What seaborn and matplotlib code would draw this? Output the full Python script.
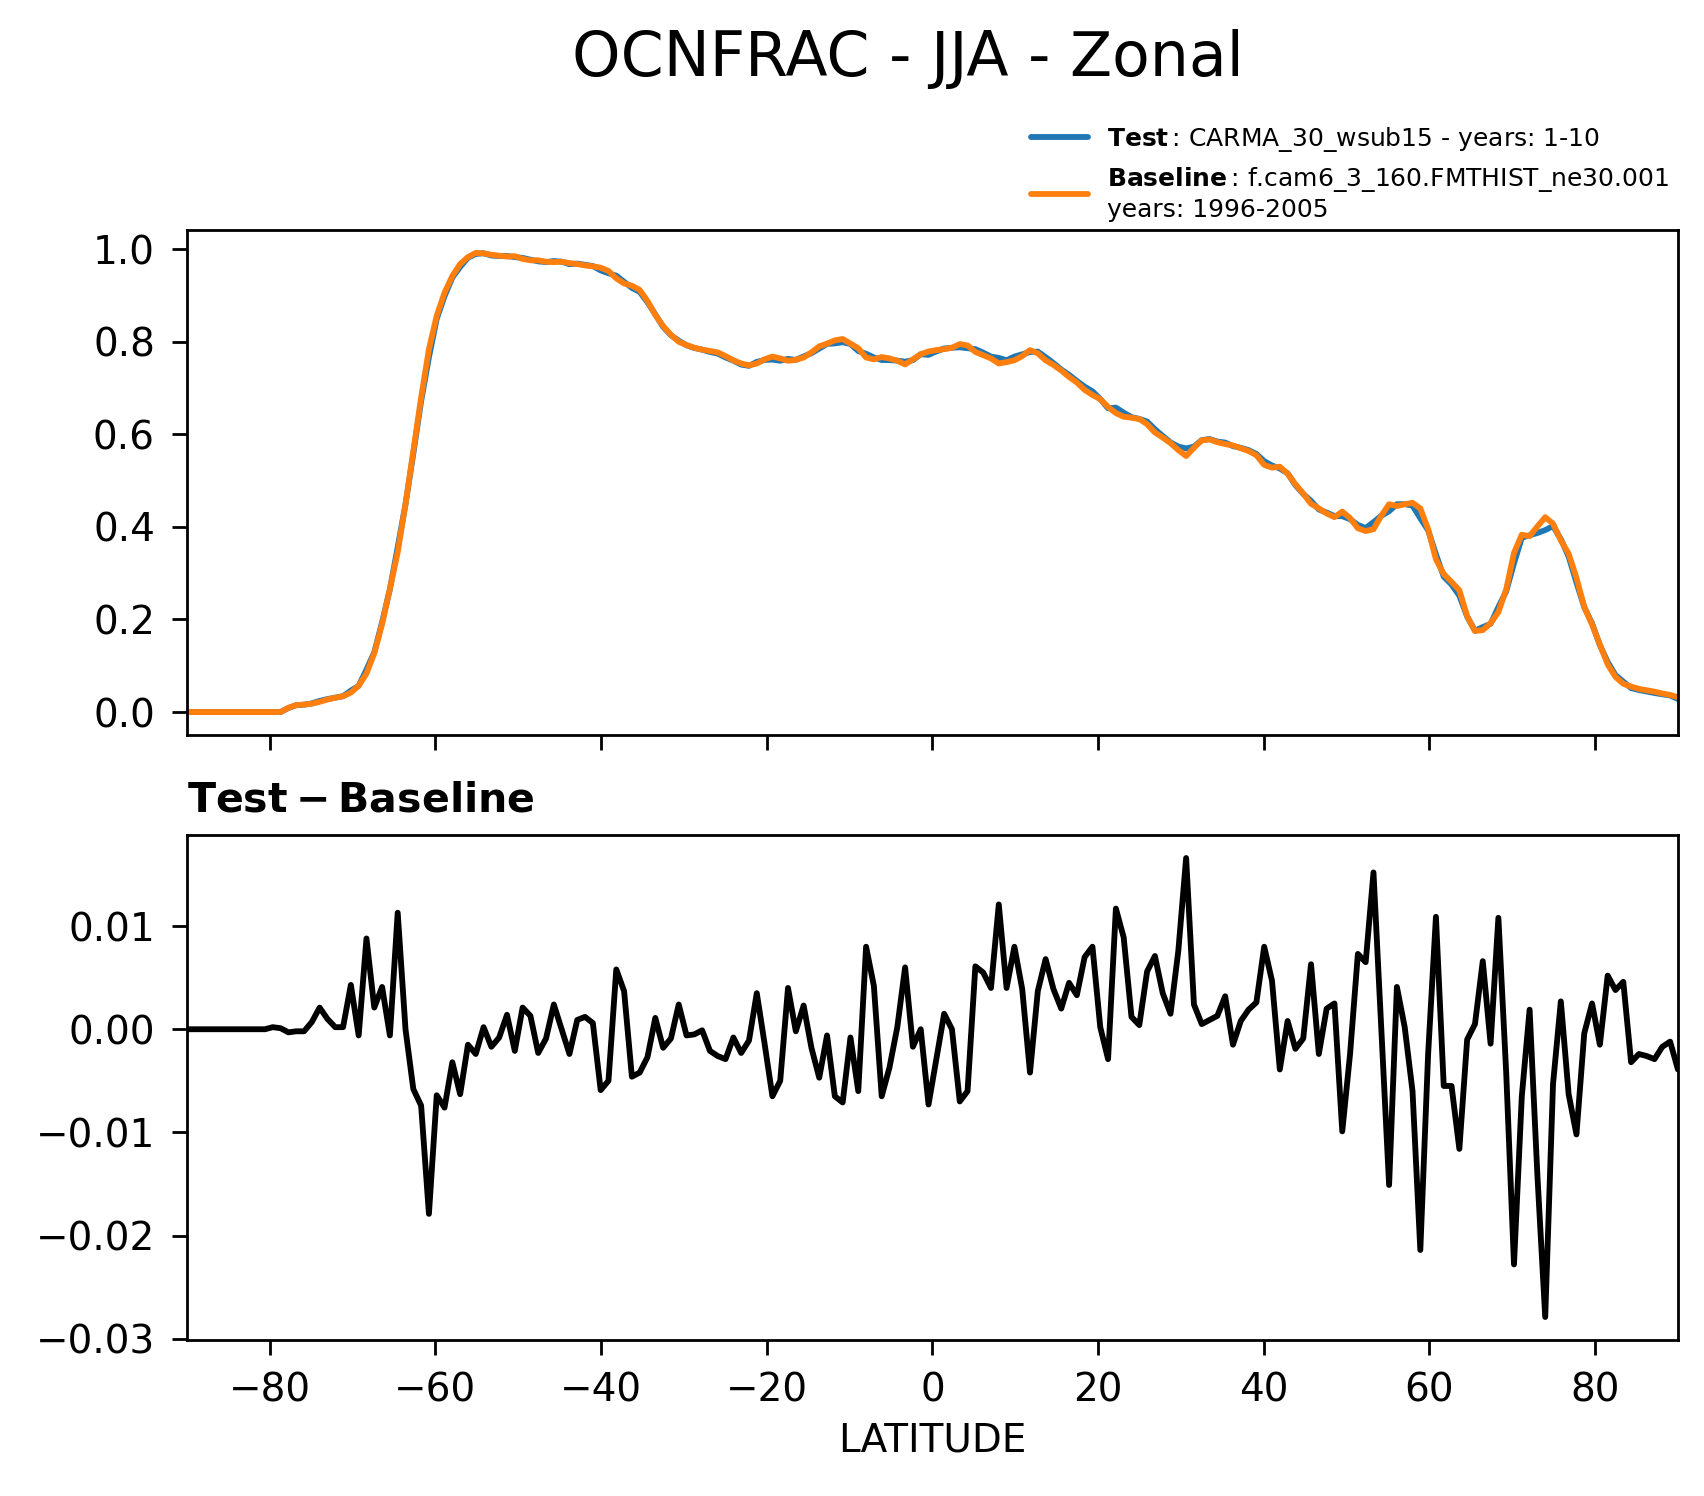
import numpy as np
import pandas as pd
import matplotlib
matplotlib.use("Agg")
import matplotlib.pyplot as plt
import seaborn as sns

# ---------------- data ----------------
# latitude grid of the 0.9x1.25 FV grid (192 latitudes, pole to pole)
lat = np.linspace(-90.0, 90.0, 192)

baseline = [
    0, 0, 0, 0, 0, 0, 0, 0, 0, 0,
    0, 0, 0, 0.009, 0.015, 0.016, 0.018, 0.022, 0.027, 0.031,
    0.034, 0.042, 0.057, 0.083, 0.127, 0.190, 0.266, 0.345, 0.449, 0.564,
    0.679, 0.784, 0.856, 0.906, 0.942, 0.968, 0.983, 0.992, 0.991, 0.988,
    0.986, 0.984, 0.985, 0.979, 0.976, 0.976, 0.973, 0.972, 0.973, 0.970,
    0.968, 0.965, 0.963, 0.960, 0.953, 0.937, 0.926, 0.921, 0.912, 0.888,
    0.858, 0.834, 0.815, 0.800, 0.793, 0.787, 0.783, 0.780, 0.777, 0.769,
    0.760, 0.753, 0.749, 0.753, 0.762, 0.768, 0.764, 0.759, 0.761, 0.766,
    0.777, 0.790, 0.796, 0.803, 0.806, 0.796, 0.786, 0.766, 0.762, 0.767,
    0.764, 0.759, 0.751, 0.762, 0.773, 0.779, 0.782, 0.784, 0.787, 0.795,
    0.792, 0.778, 0.771, 0.764, 0.753, 0.756, 0.760, 0.769, 0.782, 0.775,
    0.760, 0.750, 0.738, 0.724, 0.712, 0.696, 0.685, 0.676, 0.659, 0.646,
    0.638, 0.636, 0.633, 0.622, 0.604, 0.593, 0.581, 0.566, 0.553, 0.571,
    0.587, 0.589, 0.583, 0.579, 0.576, 0.570, 0.564, 0.555, 0.534, 0.528,
    0.530, 0.515, 0.492, 0.472, 0.450, 0.440, 0.429, 0.421, 0.433, 0.419,
    0.397, 0.391, 0.395, 0.424, 0.449, 0.445, 0.449, 0.452, 0.440, 0.395,
    0.330, 0.298, 0.281, 0.263, 0.207, 0.175, 0.177, 0.192, 0.216, 0.265,
    0.344, 0.383, 0.380, 0.401, 0.421, 0.407, 0.371, 0.342, 0.290, 0.227,
    0.189, 0.146, 0.103, 0.076, 0.061, 0.055, 0.050, 0.047, 0.044, 0.040,
    0.037, 0.032,
]

diff = [
    0, 0, 0, 0, 0, 0, 0, 0, 0, 0,
    0, 0.0002, 0.0001, -0.0003, -0.0002, -0.0002, 0.0007, 0.0021, 0.0010, 0.0002,
    0.0002, 0.0043, -0.0006, 0.0088, 0.0021, 0.0041, -0.0006, 0.0113, 0.0000, -0.0058,
    -0.0074, -0.0179, -0.0064, -0.0076, -0.0032, -0.0063, -0.0015, -0.0024, 0.0002, -0.0017,
    -0.0008, 0.0014, -0.0021, 0.0021, 0.0013, -0.0023, -0.0009, 0.0024, 0.0000, -0.0024,
    0.0009, 0.0012, 0.0006, -0.0059, -0.0050, 0.0058, 0.0037, -0.0046, -0.0042, -0.0027,
    0.0011, -0.0018, -0.0009, 0.0024, -0.0006, -0.0005, -0.0001, -0.0021, -0.0026, -0.0029,
    -0.0008, -0.0023, -0.0011, 0.0035, -0.0014, -0.0065, -0.0050, 0.0040, -0.0002, 0.0023,
    -0.0018, -0.0047, -0.0006, -0.0065, -0.0071, -0.0008, -0.0060, 0.0080, 0.0042, -0.0065,
    -0.0037, 0.0002, 0.0060, -0.0017, 0.0000, -0.0073, -0.0029, 0.0015, 0.0000, -0.0070,
    -0.0060, 0.0061, 0.0055, 0.0040, 0.0121, 0.0040, 0.0080, 0.0039, -0.0042, 0.0037,
    0.0068, 0.0039, 0.0020, 0.0045, 0.0033, 0.0070, 0.0080, 0.0002, -0.0029, 0.0117,
    0.0089, 0.0012, 0.0004, 0.0056, 0.0071, 0.0035, 0.0015, 0.0076, 0.0166, 0.0024,
    0.0005, 0.0009, 0.0013, 0.0032, -0.0015, 0.0008, 0.0019, 0.0026, 0.0080, 0.0047,
    -0.0039, 0.0008, -0.0019, -0.0009, 0.0063, -0.0024, 0.0020, 0.0025, -0.0099, -0.0024,
    0.0073, 0.0065, 0.0152, 0.0000, -0.0151, 0.0041, 0.0002, -0.0060, -0.0214, -0.0024,
    0.0109, -0.0055, -0.0055, -0.0116, -0.0010, 0.0005, 0.0066, -0.0014, 0.0108, -0.0042,
    -0.0228, -0.0065, 0.0019, -0.0142, -0.0279, -0.0053, 0.0027, -0.0063, -0.0102, -0.0004,
    0.0025, -0.0015, 0.0052, 0.0038, 0.0046, -0.0032, -0.0024, -0.0026, -0.0029, -0.0017,
    -0.0012, -0.0039,
]

xticks = [-80, -60, -40, -20, 0, 20, 40, 60, 80]
test_label = r"$\bf{Test}\,$: CARMA_30_wsub15 - years: 1-10"
base_label = r"$\bf{Baseline}\,$: f.cam6_3_160.FMTHIST_ne30.001" + "\nyears: 1996-2005"
title = "OCNFRAC - JJA - Zonal"

# test = baseline + (test - baseline)
test = np.array(baseline) + np.array(diff)
df = pd.DataFrame({"lat": lat, "Test": test, "Baseline": baseline,
                   "diff": diff})

# ---------------- style ----------------
sns.set_theme(style="ticks")
plt.rcParams["font.family"] = ["DejaVu Sans"]
plt.rcParams.update({
    "axes.linewidth": 1.0,
    "xtick.major.size": 5.5, "ytick.major.size": 5.5,
    "xtick.major.width": 1.0, "ytick.major.width": 1.0,
    "xtick.major.pad": 6.0, "ytick.major.pad": 6.0,
    "xtick.labelsize": 14, "ytick.labelsize": 14,
    "xtick.color": "black", "ytick.color": "black",
    "xtick.labelcolor": "black", "ytick.labelcolor": "black",
    "text.color": "black", "axes.labelcolor": "black",
    "axes.titlecolor": "black",
    "axes.edgecolor": "black",
    "xtick.direction": "out", "ytick.direction": "out",
})

fig = plt.figure(figsize=(8.52, 7.48), dpi=200)
ax1 = fig.add_axes([0.1097, 0.5087, 0.875, 0.3376])
ax2 = fig.add_axes([0.1097, 0.1043, 0.875, 0.3375], sharex=ax1)

sns.lineplot(data=df, x="lat", y="Test", ax=ax1, color="#1f77b4",
             lw=2.1, label=test_label)
sns.lineplot(data=df, x="lat", y="Baseline", ax=ax1, color="#ff7f0e",
             lw=2.1, label=base_label)
sns.lineplot(data=df, x="lat", y="diff", ax=ax2, color="black", lw=2.1)

for ax in (ax1, ax2):
    ax.set_xlim(-90, 90)
    ax.set_xticks(xticks)
    ax.set_ylabel("")
    for s in ax.spines.values():
        s.set_visible(True)

ax1.set_xlabel("")
ax1.tick_params(axis="x", labelbottom=False)
ax1.set_yticks([0.0, 0.2, 0.4, 0.6, 0.8, 1.0])
ax2.set_yticks([0.01, 0.0, -0.01, -0.02, -0.03])
ax2.set_xlabel("LATITUDE", fontsize=14, color="black")
ax2.set_title(r"$\bf{Test} - \bf{Baseline}$", loc="left", fontsize=14.8,
              pad=8.6, color="black")

leg = ax1.legend(loc="lower left", bbox_to_anchor=(0.605, 0.8516),
                 bbox_transform=fig.transFigure, frameon=False, fontsize=9,
                 handlelength=2.3, handletextpad=0.75, borderpad=0,
                 borderaxespad=0, labelspacing=0.45)
for t in leg.get_texts():
    t.set_color("black")

fig.suptitle(title, x=0.5326, y=0.949, va="baseline", fontsize=22.2,
             color="black")

fig.savefig("out.png", dpi=200)
